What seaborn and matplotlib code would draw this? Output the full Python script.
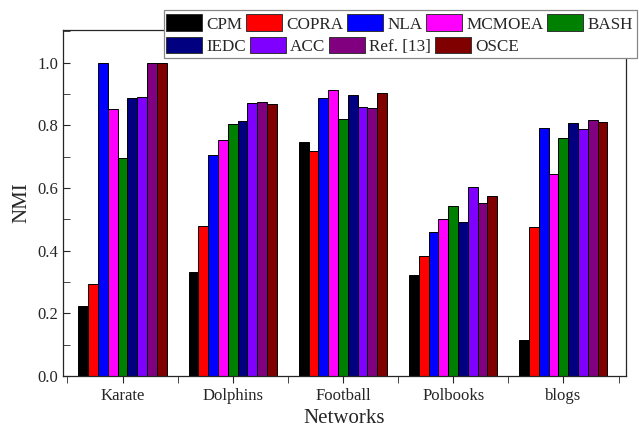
import matplotlib
matplotlib.use("Agg")
import matplotlib.pyplot as plt
from matplotlib.patches import Patch, Rectangle
from matplotlib.ticker import MultipleLocator, FormatStrFormatter
import pandas as pd
import seaborn as sns

# Datos
networks = ["Karate", "Dolphins", "Football", "Polbooks", "blogs"]
methods = ["CPM", "COPRA", "NLA", "MCMOEA", "BASH", "IEDC", "ACC", "Ref. [13]", "OSCE"]
colors = ["#000000", "#FF0000", "#0000FF", "#FF00FF", "#008000",
          "#000080", "#8000FF", "#800080", "#800000"]

cpm = [0.223, 0.332, 0.747, 0.323, 0.114]
copra = [0.293, 0.478, 0.717, 0.383, 0.476]
nla = [1.000, 0.706, 0.888, 0.461, 0.793]
mcmoea = [0.853, 0.753, 0.913, 0.500, 0.644]
bash = [0.697, 0.806, 0.822, 0.543, 0.759]
iedc = [0.888, 0.814, 0.897, 0.493, 0.807]
acc = [0.891, 0.872, 0.860, 0.605, 0.790]
ref13 = [1.000, 0.874, 0.855, 0.552, 0.817]
osce = [1.000, 0.868, 0.902, 0.576, 0.810]


def build_frame():
    series = [cpm, copra, nla, mcmoea, bash, iedc, acc, ref13, osce]
    rows = []
    for m, vals in zip(methods, series):
        for n, v in zip(networks, vals):
            rows.append({"Networks": n, "Method": m, "NMI": v})
    return pd.DataFrame(rows)


df = build_frame()

sns.set_style("ticks")
plt.rcParams["font.family"] = ["Liberation Serif", "DejaVu Serif"]

W, H = 639, 440
fig = plt.figure(figsize=(W / 100, H / 100), dpi=100)
ax = fig.add_axes([0.0986, 0.1455, 0.8814, 0.7865])

sns.barplot(data=df, x="Networks", y="NMI", hue="Method", order=networks,
            hue_order=methods, palette=colors, width=0.8, saturation=1,
            edgecolor="black", linewidth=0.7, ax=ax, legend=False)

ax.set_xlim(-0.54, 4.57)
ax.set_ylim(0, 1.105)
ax.yaxis.set_major_locator(MultipleLocator(0.2))
ax.yaxis.set_minor_locator(MultipleLocator(0.1))
ax.yaxis.set_major_formatter(FormatStrFormatter("%.1f"))
ax.set_xticks(range(len(networks)))
ax.set_xticks([i + 0.5 for i in range(-1, len(networks))], minor=True)
ax.tick_params(axis="y", which="both", direction="in", length=5, labelsize=12)
ax.tick_params(axis="x", which="both", direction="out", length=5, labelsize=12)
for s in ax.spines.values():
    s.set_visible(True)
    s.set_linewidth(0.9)

ax.set_xlabel("Networks", fontsize=15)
ax.set_ylabel("NMI", fontsize=15)

# caixa da legenda (duas linhas sem alinhamento de colunas)
box = Rectangle((164 / W, 1 - 58 / H), (637 - 164) / W, 48 / H,
                transform=fig.transFigure, facecolor="white",
                edgecolor="#888888", linewidth=0.9, zorder=4)
fig.add_artist(box)

handles = [Patch(facecolor=c, edgecolor="#333333", linewidth=0.7) for c in colors]
leg_kw = dict(loc="center left", fontsize=12.3, frameon=False,
              handlelength=2.1, handleheight=1.1, handletextpad=0.25,
              columnspacing=0.22, borderpad=0.0, borderaxespad=0.0)
leg1 = fig.legend(handles[:5], methods[:5], ncol=5,
                  bbox_to_anchor=(166 / W, 1 - 23.5 / H), **leg_kw)
leg2 = fig.legend(handles[5:], methods[5:], ncol=4,
                  bbox_to_anchor=(166 / W, 1 - 46 / H), **leg_kw)
leg1.set_zorder(5)
leg2.set_zorder(5)

fig.savefig("out.png", dpi=100)
